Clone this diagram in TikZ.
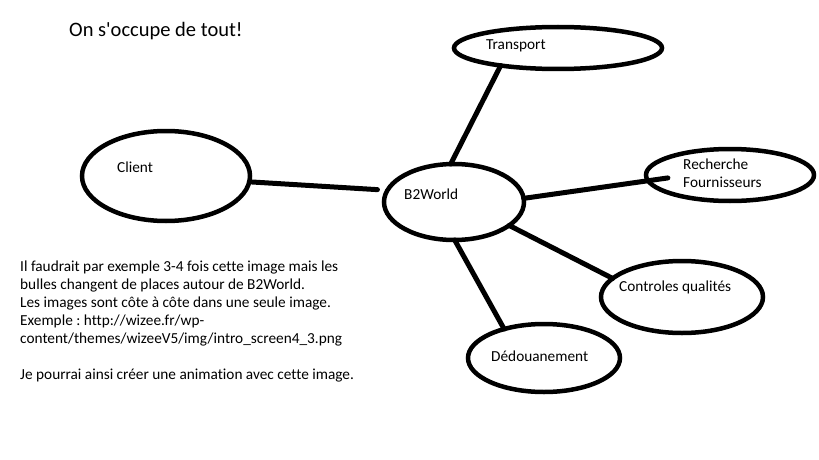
\documentclass[tikz,border=0pt]{standalone}
\usepackage{fontspec}
\setmainfont{Carlito}[Ligatures={NoCommon}]
\frenchspacing
\usetikzlibrary{shapes.geometric}
\tikzset{%
    bubble/.style={ellipse, draw, line width=4.5pt, inner sep=0pt,
    	outer sep=0pt},
    word/.style={anchor=base west, inner sep=0pt,
    	font=\fontsize{15.3}{18}\selectfont},
    link/.style={line width=5pt, line cap=round}
}
\begin{document}
\begin{tikzpicture}[x=1pt, y=-1pt]
  \useasboundingbox (0,0) rectangle (819,460);
  \node (title) [word, font=\fontsize{20.5}{24}\selectfont] at (69,37) {On s\textquotesingle occupe de tout!};

  \node (cl) [bubble, minimum width=168pt, minimum height=90pt] at (166,176) {};
  \node (b2w) [bubble, minimum width=140pt, minimum height=76pt] at (454,202) {};
  \node (tr) [bubble, minimum width=208pt, minimum height=42pt] at (558,48) {};
  \node (rf) [bubble, minimum width=168pt, minimum height=52pt] at (730,175) {};
  \node (cq) [bubble, minimum width=162pt, minimum height=72pt] at (682,297) {};
  \node (dd) [bubble, minimum width=152pt, minimum height=68pt] at (544,358) {};

  % multi-line texts sit on their last baseline
  \node (cl_t) [word] at (117,172) {Client};
  \node (b2w_t) [word] at (404,199) {B2World};
  \node (tr_t) [word] at (486,50) {Transport};
  \node (rf_t) [word, align=left] at (683,187) {Recherche\\Fournisseurs};
  \node (cq_t) [word] at (619,291) {Controles qualités};
  \node (dd_t) [word] at (491,361) {Dédouanement};

  \node (note) [word, align=left] at (20,379) {Il faudrait par exemple 3-4 fois cette image mais les\\
    bulles changent de places autour de B2World.\\
    Les images sont côte à côte dans une seule image.\\
    Exemple : http://wizee.fr/wp-\\
    content/themes/wizeeV5/img/intro\_screen4\_3.png\\[18pt]
    Je pourrai ainsi créer une animation avec cette image.};

  \draw[link, shorten >=10pt] (cl.-4) -- (b2w.170);
  \draw[link] (b2w.95) -- (tr.-163);
  \draw[link, shorten >=-20pt] (b2w.3) -- (rf.184);
  \draw[link] (b2w.-23) -- (cq.165);
  \draw[link] (b2w.-89) -- (dd.144);
\end{tikzpicture}
\end{document}
